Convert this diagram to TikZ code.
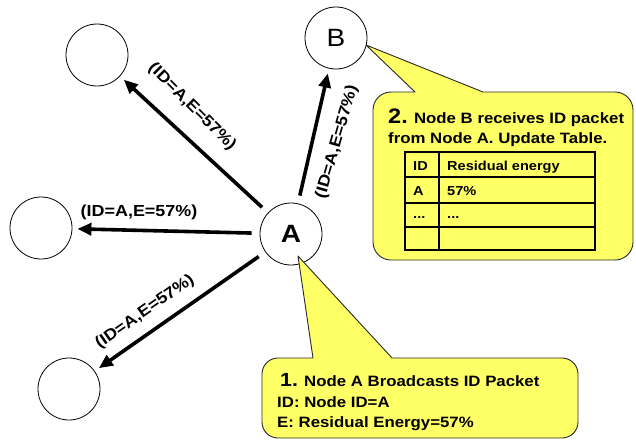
\documentclass[tikz,border=0pt]{standalone}
\usepackage{fontspec}
\setmainfont[FakeStretch=1.12]{Liberation Sans}
\usetikzlibrary{arrows.meta}
\definecolor{callyellow}{RGB}{255,255,102}
\definecolor{callline}{RGB}{40,40,40}
\begin{document}
\begin{tikzpicture}[x=1pt,y=-1pt,
  station/.style={circle,draw=black,line width=0.8pt,fill=white,minimum size=62pt,inner sep=0pt},
  arr/.style={line width=3.6pt,-{Triangle[length=14pt,width=12pt]},shorten <=8pt,shorten >=5pt},
  lbl/.style={font=\bfseries\fontsize{16}{16}\selectfont,inner sep=0pt},
  callout/.style={fill=callyellow,draw=callline,line width=0.9pt,line join=round},
  ctext/.style={anchor=base west,inner sep=0pt,font=\bfseries\fontsize{15}{15}\selectfont},
  ttext/.style={anchor=base west,inner sep=0pt,font=\bfseries\fontsize{13}{13}\selectfont},
  tline/.style={line width=1.4pt}
]
\useasboundingbox (0,0) rectangle (636,442);

% stations
\node[station] (TL) at (97,55) {};
\node[station] (L) at (41,228) {};
\node[station] (BL) at (69,389) {};
\node[station,font=\bfseries\fontsize{25}{25}\selectfont] (A) at (291,234) {A};
\node[station,font=\fontsize{25}{25}\selectfont] (B) at (336,38) {B};

% arrows
\draw[arr] (A) -- (TL);
\draw[arr] (A) -- (L);
\draw[arr] (A) -- (BL);
\draw[arr] (A) -- (B);

% labels
\node[lbl,rotate=-45] (lTL) at (192,107) {(ID=A,E=57\%)};
\node[lbl] (lL) at (139,212) {(ID=A,E=57\%)};
\node[lbl,rotate=35] (lBL) at (145,312) {(ID=A,E=57\%)};
\node[lbl,rotate=74] (lB) at (337,142) {(ID=A,E=57\%)};

% callout 2
\coordinate (tipB) at (366,45);
\draw[callout] (415,92) -- (tipB) -- (483,92)
  {[rounded corners=18pt] -- (633,92) -- (633,260) -- (373,260) -- (373,92)} -- cycle;
\node[ctext] (c2a) at (388,123) {{\fontsize{21}{21}\selectfont 2.} Node B receives ID packet};
\node[ctext] (c2b) at (388,143) {from Node A. Update Table.};
% table
\draw[tline] (405,152) rectangle (595,250);
\draw[tline] (439,152) -- (439,250);
\draw[tline] (405,177) -- (595,177);
\draw[tline] (405,203) -- (595,203);
\draw[tline] (405,227) -- (595,227);
\node[ttext] (t11) at (413,170) {ID};
\node[ttext] (t12) at (447,170) {Residual energy};
\node[ttext] (t21) at (413,195) {A};
\node[ttext] (t22) at (447,195) {57\%};
\node[ttext] (t31) at (413,218) {...};
\node[ttext] (t32) at (447,218) {...};

% callout 1
\coordinate (tipA) at (298,256);
\draw[callout] (313,358) -- (tipA) -- (392,358)
  {[rounded corners=16pt] -- (578,358) -- (578,438) -- (262,438) -- (262,358)} -- cycle;
\node[ctext] (c1a) at (280,386) {{\fontsize{19}{19}\selectfont 1.} Node A Broadcasts ID Packet};
\node[ctext] (c1b) at (277,407) {ID: Node ID=A};
\node[ctext] (c1c) at (277,427) {E: Residual Energy=57\%};
\end{tikzpicture}
\end{document}
